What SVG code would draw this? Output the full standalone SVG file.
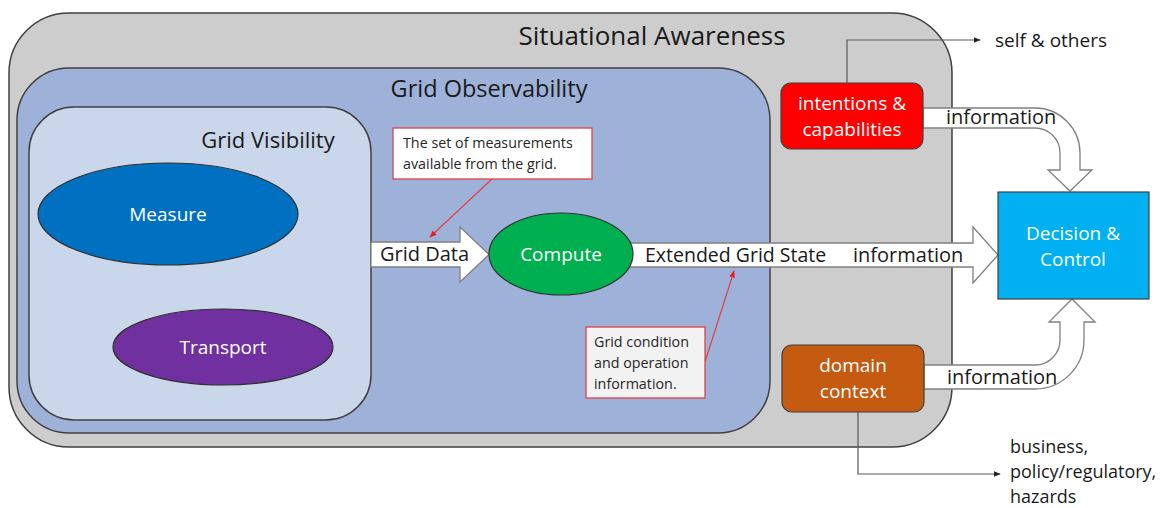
<svg xmlns="http://www.w3.org/2000/svg" width="1173" height="508" viewBox="0 0 1173 508">
  <style>
    text { font-family: "Open Sans", "Liberation Sans", Arial, sans-serif; }
    .frame { stroke: #404040; stroke-width: 1.5; }
    .title { fill: #1a1a1a; text-anchor: middle; }
    .lbl { font-size: 19px; fill: #ffffff; text-anchor: middle; }
    .dark { font-size: 19px; fill: #1a1a1a; }
    .note { font-size: 14.3px; fill: #262626; }
    .flow { fill: #ffffff; stroke: #808080; stroke-width: 1.3; }
    .lead { fill: none; stroke: #595959; stroke-width: 1.2; }
    .callout-line { fill: none; stroke: #e0404a; stroke-width: 1.2; }
  </style>
  <defs>
    <marker id="tipDark" viewBox="0 0 10 10" refX="9" refY="5" markerWidth="6" markerHeight="6" orient="auto">
      <path d="M0,1 L10,5 L0,9 Z" fill="#262626"/>
    </marker>
    <marker id="tipRed" viewBox="0 0 10 10" refX="9" refY="5" markerWidth="6" markerHeight="6" orient="auto">
      <path d="M0,1 L10,5 L0,9 Z" fill="#e8202a"/>
    </marker>
  </defs>

  <!-- containers -->
  <g id="situational-awareness">
    <rect x="9" y="13" width="943" height="434" rx="60" fill="#cdcdcd" class="frame"/>
    <text x="652" y="45" class="title" style="font-size:26px">Situational Awareness</text>
  </g>
  <g id="grid-observability">
    <rect x="17" y="68" width="753" height="365" rx="52" fill="#9eb1d8" class="frame"/>
    <text x="489" y="97" class="title" style="font-size:23.5px">Grid Observability</text>
  </g>
  <g id="grid-visibility">
    <rect x="29" y="107" width="342" height="313" rx="45" fill="#cad6ea" class="frame"/>
    <text x="268" y="148" class="title" style="font-size:22px">Grid Visibility</text>
  </g>

  <!-- connectors -->
  <g id="connectors">
    <!-- Grid Data block arrow -->
    <path class="flow" d="M371,242 L460,242 L460,227 L489,254.5 L460,282 L460,267 L371,267 Z"/>
    <!-- Extended Grid State block arrow -->
    <path class="flow" d="M620,243 L973,243 L973,227 L998,255 L973,283 L973,267 L620,267 Z"/>
    <!-- intentions -> decision -->
    <path class="flow" d="M923,108 L1035,108 A45,45 0 0 1 1080,153 L1080,170 L1092,170 L1070,191 L1048,170 L1060,170 L1060,153 A25,25 0 0 0 1035,128 L923,128 Z"/>
    <!-- domain -> decision -->
    <path class="flow" d="M924,365 L1035,365 A25,25 0 0 0 1060,340 L1060,322 L1049,322 L1072,299 L1095,322 L1084,322 L1084,340 A49,49 0 0 1 1035,389 L924,389 Z"/>
    <!-- outward leads -->
    <path class="lead" d="M847,83 L847,40 L980,40" marker-end="url(#tipDark)"/>
    <path class="lead" d="M858,412 L858,474 L1000,474" marker-end="url(#tipDark)"/>
    <!-- callout leads -->
    <path class="callout-line" d="M492,179 L430,237" marker-end="url(#tipRed)"/>
    <path class="callout-line" d="M705,362 L734,271" marker-end="url(#tipRed)"/>
    <!-- flow labels -->
    <text x="380" y="261" class="dark" style="font-size:20px">Grid Data</text>
    <text x="645" y="262" class="dark" style="font-size:19.5px">Extended Grid State</text>
    <text x="853" y="262" class="dark" style="font-size:20px">information</text>
    <text x="946" y="124" class="dark" style="font-size:20px">information</text>
    <text x="947" y="384" class="dark" style="font-size:20px">information</text>
  </g>

  <!-- nodes -->
  <g id="measure">
    <ellipse cx="168" cy="214" rx="130" ry="51" fill="#0070c0" stroke="#303030" stroke-width="1.2"/>
    <text x="168" y="221" class="lbl">Measure</text>
  </g>
  <g id="transport">
    <ellipse cx="223" cy="347" rx="110" ry="38" fill="#7030a0" stroke="#303030" stroke-width="1.2"/>
    <text x="223" y="354" class="lbl">Transport</text>
  </g>
  <g id="compute">
    <ellipse cx="561" cy="254" rx="72" ry="41" fill="#00b050" stroke="#303030" stroke-width="1.2"/>
    <text x="561" y="261" class="lbl">Compute</text>
  </g>
  <g id="intentions-capabilities">
    <rect x="781" y="83" width="142" height="66" rx="10" fill="#ff0000" stroke="#404040" stroke-width="1.2"/>
    <text x="852" y="110" class="lbl">intentions &amp;</text>
    <text x="852" y="136" class="lbl">capabilities</text>
  </g>
  <g id="domain-context">
    <rect x="782" y="345" width="142" height="67" rx="10" fill="#c55a11" stroke="#404040" stroke-width="1.2"/>
    <text x="853" y="372" class="lbl">domain</text>
    <text x="853" y="398" class="lbl">context</text>
  </g>
  <g id="decision-control">
    <rect x="998" y="192" width="151" height="107" fill="#00b0f0" stroke="#404040" stroke-width="1.2"/>
    <text x="1073" y="240" class="lbl">Decision &amp;</text>
    <text x="1073" y="266" class="lbl">Control</text>
  </g>
  <g id="note-measurements">
    <rect x="393" y="128" width="199" height="51" fill="#ffffff" stroke="#e0404a" stroke-width="1.3"/>
    <text x="403" y="148" class="note">The set of measurements</text>
    <text x="403" y="169" class="note">available from the grid.</text>
  </g>
  <g id="note-condition">
    <rect x="586" y="327" width="119" height="71" fill="#f2f2f2" stroke="#e0404a" stroke-width="1.3"/>
    <text x="594" y="347" class="note">Grid condition</text>
    <text x="594" y="368" class="note">and operation</text>
    <text x="594" y="389" class="note">information.</text>
  </g>
  <g id="external-labels">
    <text x="995" y="47" class="dark">self &amp; others</text>
    <text x="1010" y="453" class="dark" style="font-size:18px">business,</text>
    <text x="1010" y="478" class="dark" style="font-size:18px">policy/regulatory,</text>
    <text x="1010" y="503" class="dark" style="font-size:18px">hazards</text>
  </g>
</svg>
